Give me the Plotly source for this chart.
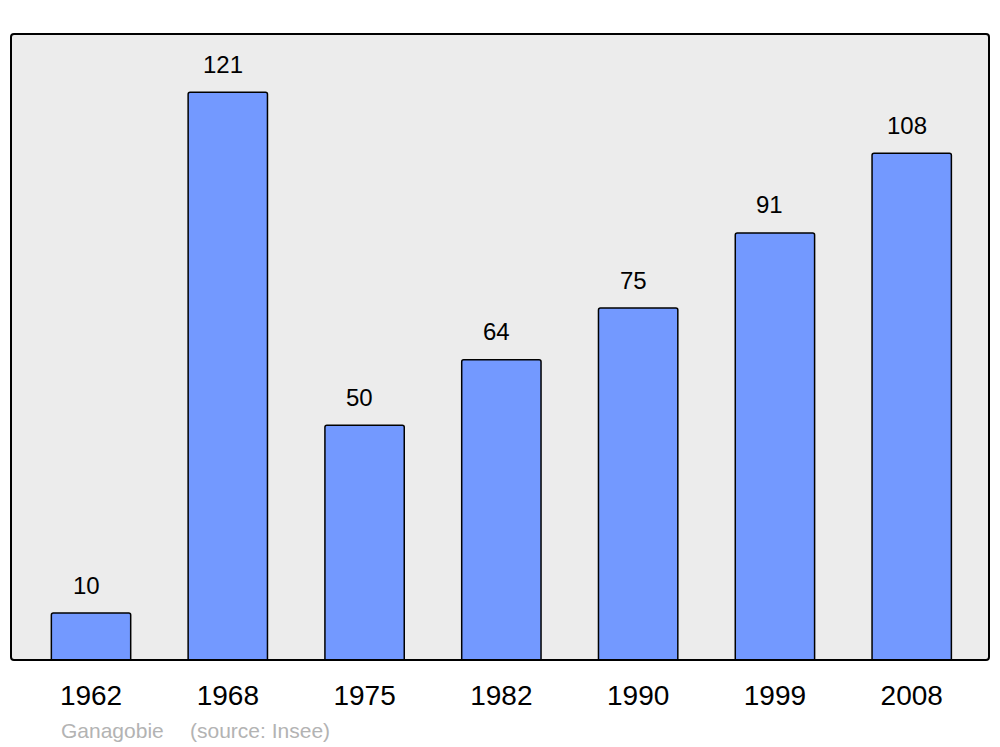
import plotly.graph_objects as go

years = ["1962", "1968", "1975", "1982", "1990", "1999", "2008"]
population = [10, 121, 50, 64, 75, 91, 108]
commune = "Ganagobie"
source_note = "(source: Insee)"

W, H = 1000, 747
L, R, T, B = 11, 11, 34, 87
pw, ph = W - L - R, H - T - B
FONT = "Liberation Sans, Arial"

fig = go.Figure()
fig.add_trace(go.Bar(
    x=years, y=population, width=0.58,
    marker=dict(color="#7399ff", line=dict(color="black", width=1.5), cornerradius=2),
    hoverinfo="x+y",
))

for i, v in enumerate(population):
    fig.add_annotation(x=i, y=v, text=str(v), showarrow=False, xanchor="center", yanchor="middle",
                       yshift=28, xshift=-5, font=dict(size=24, color="black", family=FONT))

fig.add_annotation(xref="paper", yref="paper", x=(59 - L) / pw, y=0, yshift=-70, xanchor="left", yanchor="middle",
                   text=commune, showarrow=False, font=dict(size=21, color="#b3b3b3", family=FONT))
fig.add_annotation(xref="paper", yref="paper", x=(188 - L) / pw, y=0, yshift=-70, xanchor="left", yanchor="middle",
                   text=source_note, showarrow=False, font=dict(size=21, color="#b3b3b3", family=FONT))

# rounded plot border
rx, ry = 3 / pw, 3 / ph
path = (f"M {rx},0 L {1-rx},0 Q 1,0 1,{ry} L 1,{1-ry} Q 1,1 {1-rx},1 L {rx},1 Q 0,1 0,{1-ry} "
        f"L 0,{ry} Q 0,0 {rx},0 Z")
fig.add_shape(type="path", xref="paper", yref="paper", path=path,
              line=dict(color="black", width=2), layer="above")

fig.update_layout(
    width=W, height=H,
    margin=dict(l=L, r=R, t=T, b=B),
    paper_bgcolor="white", plot_bgcolor="#ececec",
    showlegend=False,
    font=dict(family=FONT, color="black"),
    xaxis=dict(type="category", range=[-0.585, 6.565], showgrid=False, zeroline=False, showline=False,
               ticks="", tickfont=dict(size=28, color="black"), ticklabelstandoff=16, fixedrange=True),
    yaxis=dict(range=[0, 133.4], showgrid=False, zeroline=False, showline=False, showticklabels=False,
               ticks="", fixedrange=True),
)

fig.write_html("out.html", config={"displayModeBar": False},
               post_script="document.body.style.margin='0';")
